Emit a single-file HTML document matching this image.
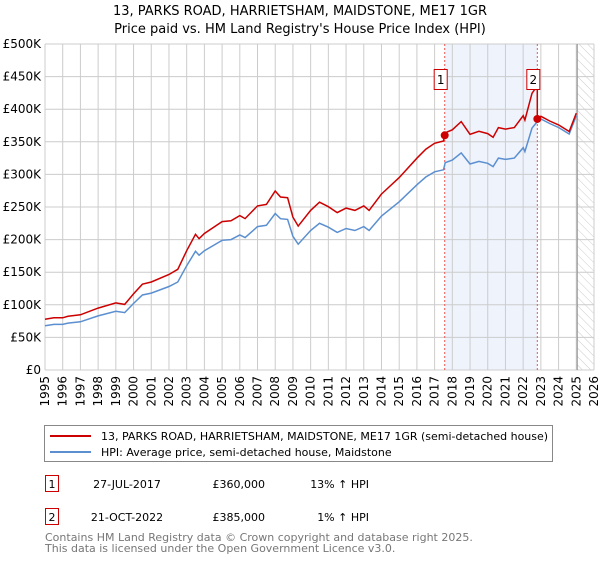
<!DOCTYPE html>
<html><head><meta charset="utf-8"><style>
body{margin:0;background:#fff;font-family:"Liberation Sans","DejaVu Sans",sans-serif}
svg text{font-family:"DejaVu Sans","Liberation Sans",sans-serif}
</style></head><body>
<svg id="chart" width="600" height="560" xmlns="http://www.w3.org/2000/svg">
<text x="300" y="15" text-anchor="middle" font-size="13">13, PARKS ROAD, HARRIETSHAM, MAIDSTONE, ME17 1GR</text>
<text x="300" y="33" text-anchor="middle" font-size="13">Price paid vs. HM Land Registry's House Price Index (HPI)</text>
<g id="plot"></g>
<g>
<rect x="44.5" y="425.5" width="508" height="36" fill="#fff" stroke="#888"/>
<line x1="50" y1="436" x2="91" y2="436" stroke="#cc0000" stroke-width="2"/>
<text x="101" y="440" font-size="11">13, PARKS ROAD, HARRIETSHAM, MAIDSTONE, ME17 1GR (semi-detached house)</text>
<line x1="50" y1="452" x2="91" y2="452" stroke="#5b8fd0" stroke-width="2"/>
<text x="101" y="456" font-size="11">HPI: Average price, semi-detached house, Maidstone</text>
</g>
<g font-size="11">
<rect x="45.5" y="475.5" width="13" height="16" fill="#fff" stroke="#cc0000"/>
<text x="52" y="488" text-anchor="middle">1</text>
<text x="127" y="488" text-anchor="middle">27-JUL-2017</text>
<text x="265" y="488" text-anchor="end">£360,000</text>
<text x="369" y="488" text-anchor="end">13% ↑ HPI</text>
<rect x="45.5" y="508.5" width="13" height="16" fill="#fff" stroke="#cc0000"/>
<text x="52" y="521" text-anchor="middle">2</text>
<text x="127" y="521" text-anchor="middle">21-OCT-2022</text>
<text x="265" y="521" text-anchor="end">£385,000</text>
<text x="369" y="521" text-anchor="end">1% ↑ HPI</text>
</g>
<text x="45" y="541" font-size="11" fill="#777">Contains HM Land Registry data © Crown copyright and database right 2025.</text>
<text x="45" y="552" font-size="11" fill="#777">This data is licensed under the Open Government Licence v3.0.</text>
</svg>
<script>
const hpiYears=[1995,1995.5,1996,1996.3,1997,1998,1999,1999.5,2000,2000.5,2001,2002,2002.5,2003,2003.5,2003.7,2004,2005,2005.5,2006,2006.3,2007,2007.5,2008,2008.3,2008.7,2009,2009.3,2010,2010.5,2011,2011.5,2012,2012.5,2013,2013.3,2014,2015,2016,2016.5,2017,2017.5,2017.6,2018,2018.5,2019,2019.5,2020,2020.3,2020.6,2021,2021.5,2022,2022.1,2022.5,2022.8,2023,2023.5,2024,2024.6,2025];
const hpiValues=[68000,70000,70000,72000,74000,83000,90000,88000,102000,115000,118000,128000,135000,160000,182000,176000,183000,199000,200000,207000,203000,220000,222000,240000,232000,231000,205000,193000,214000,225000,219000,211000,217000,214000,220000,214000,236000,258000,284000,296000,304000,307000,318000,322000,333000,316000,320000,317000,312000,325000,323000,325000,341000,335000,371000,381000,385000,378000,372000,362000,390000];
const saleDates=[2017.57,2022.80];
const salePrices=[360000,385000];
const saleLabels=["1","2"];
const yTicks=[0,50000,100000,150000,200000,250000,300000,350000,400000,450000,500000];
const yTickLabels=["£0","£50K","£100K","£150K","£200K","£250K","£300K","£350K","£400K","£450K","£500K"];
const xTicks=[1995,1996,1997,1998,1999,2000,2001,2002,2003,2004,2005,2006,2007,2008,2009,2010,2011,2012,2013,2014,2015,2016,2017,2018,2019,2020,2021,2022,2023,2024,2025,2026];

const NS="http://www.w3.org/2000/svg";
const L=45,R=594,T=44,B=370;
const xs=v=>L+(v-1995)/(2026-1995)*(R-L);
const ys=v=>B-v/500000*(B-T);
const g=document.getElementById('plot');
function mk(tag,attrs){const e=document.createElementNS(NS,tag);for(const k in attrs)e.setAttribute(k,attrs[k]);g.appendChild(e);return e;}
function hpiAt(t){for(let i=1;i<hpiYears.length;i++){if(t<=hpiYears[i]){const f=(t-hpiYears[i-1])/(hpiYears[i]-hpiYears[i-1]);return hpiValues[i-1]+f*(hpiValues[i]-hpiValues[i-1]);}}return hpiValues[hpiValues.length-1];}

// shaded period and hatched future
let e=mk('rect',{x:xs(saleDates[0]),y:T,width:xs(saleDates[1])-xs(saleDates[0]),height:B-T,fill:'#eef3fc'});


const defs=mk('defs',{});
defs.innerHTML='<pattern id="hatch" width="6" height="6" patternUnits="userSpaceOnUse" patternTransform="rotate(-45)"><line x1="0" y1="0" x2="0" y2="6" stroke="#ccc" stroke-width="1"/></pattern>';
e=mk('rect',{x:xs(2025.05),y:T,width:R-xs(2025.05),height:B-T,fill:'url(#hatch)'});



// grid
yTicks.forEach((v,i)=>{
  let l=mk('line',{x1:L,x2:R,y1:ys(v),y2:ys(v),stroke:'#cccccc'});
  
  
  let t=mk('text',{x:L-4,y:ys(v)+4,'text-anchor':'end','font-size':'12'});
  t.textContent=yTickLabels[i];
  
  
});
xTicks.forEach(v=>{
  let l=mk('line',{x1:xs(v),x2:xs(v),y1:T,y2:B,stroke:'#cccccc'});
  
  
  let t=mk('text',{x:0,y:0,'text-anchor':'end','font-size':'12',transform:`translate(${xs(v)+4},${B+6}) rotate(-90)`});
  t.textContent=String(v);
  
  
});
e=mk('line',{x1:xs(2025.05),x2:xs(2025.05),y1:T,y2:B,stroke:'#888'});



// sale vertical lines
saleDates.forEach(d=>{
  let l=mk('line',{x1:xs(d),x2:xs(d),y1:T,y2:B,stroke:'#ee5555','stroke-dasharray':'2,2'});
  
  
});

// HPI line
let p=hpiYears.map((t,i)=>(i?'L':'M')+xs(t).toFixed(1)+','+ys(hpiValues[i]).toFixed(1)).join('');
e=mk('path',{d:p,fill:'none',stroke:'#5b8fd0','stroke-width':1.5});



// property line: HPI indexed to latest sale
function factorAt(t){let f=salePrices[0]/hpiAt(saleDates[0]);for(let k=0;k<saleDates.length;k++){if(t>=saleDates[k])f=salePrices[k]/hpiAt(saleDates[k]);}return f;}
let pts=[];
hpiYears.forEach((t,i)=>{
  saleDates.forEach((d,k)=>{if(i>0&&hpiYears[i-1]<d&&t>=d){const f0=k?salePrices[k-1]/hpiAt(saleDates[k-1]):salePrices[0]/hpiAt(saleDates[0]);pts.push([d,hpiAt(d)*f0]);pts.push([d,salePrices[k]]);}});
  pts.push([t,hpiValues[i]*factorAt(t)]);
});
p=pts.map((q,i)=>(i?'L':'M')+xs(q[0]).toFixed(1)+','+ys(q[1]).toFixed(1)).join('');
e=mk('path',{d:p,fill:'none',stroke:'#cc0000','stroke-width':1.5});



// sale points and labels
saleDates.forEach((d,k)=>{
  let c=mk('circle',{cx:xs(d),cy:ys(salePrices[k]),r:4,fill:'#cc0000'});
  
  
  let b=mk('rect',{x:xs(d)-10.5,y:69.5,width:13,height:20,fill:'#fff',stroke:'#cc0000'});
  
  
  let t=mk('text',{x:xs(d)-4,y:84,'text-anchor':'middle','font-size':'12'});
  t.textContent=saleLabels[k];
  
  
});
</script>
</body></html>
